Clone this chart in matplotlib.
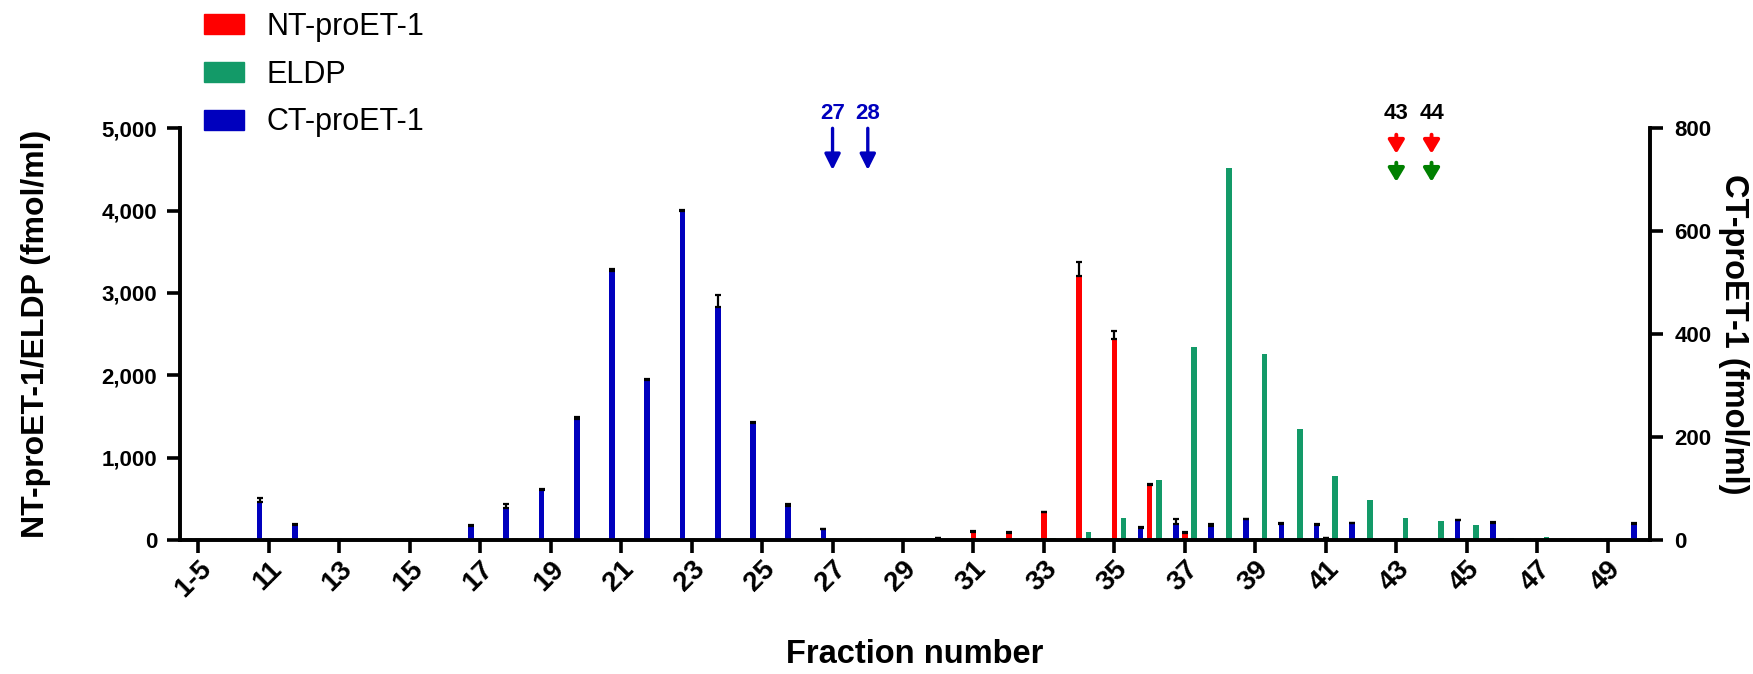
import numpy as np
import matplotlib
matplotlib.use('Agg')
import matplotlib.pyplot as plt
from matplotlib.patches import Patch

plt.rcParams['font.family'] = ['Liberation Sans', 'DejaVu Sans']

fractions = ['1-5', '6-10'] + [str(n) for n in range(11, 51)]

# NT-proET-1 (fmol/ml), left axis
nt = [0, 0,
      0, 0, 0, 0, 0, 0, 0, 0, 0, 0,          # 11-20
      0, 0, 0, 0, 0, 0, 0, 0, 0, 25,         # 21-30
      95, 85, 340, 3206, 2445, 672, 85, 0, 0, 0,   # 31-40
      20, 0, 0, 0, 0, 0, 0, 0, 0, 0]        # 41-50
nt_err = [0, 0,
          0, 0, 0, 0, 0, 0, 0, 0, 0, 0,
          0, 0, 0, 0, 0, 0, 0, 0, 0, 5,
          12, 15, 0, 166, 97, 12, 10, 0, 0, 0,
          0, 0, 0, 0, 0, 0, 0, 0, 0, 0]

# ELDP (fmol/ml), left axis
eldp = [0, 0,
        0, 0, 0, 0, 0, 0, 0, 0, 0, 0,
        0, 0, 0, 0, 0, 0, 0, 0, 0, 0,
        0, 0, 25, 93, 263, 725, 2340, 4522, 2259, 1344,
        777, 490, 271, 231, 178, 24, 36, 12, 0, 0]

# CT-proET-1 (fmol/ml), right axis
ct = [0, 0,
      74, 30, 0, 0, 0, 0, 28, 63, 98, 236,
      523, 310, 639, 453, 227, 67, 21, 0, 0, 0,
      0, 0, 0, 0, 0, 24, 32, 27, 40, 32,
      30, 33, 0, 0, 38, 34, 0, 0, 0, 32]
ct_err = [0, 0,
          7, 1, 0, 0, 0, 0, 1, 6, 2, 3,
          3, 2, 3, 24, 2, 3, 1, 0, 0, 0,
          0, 0, 0, 0, 0, 1, 8, 4, 1, 1,
          1, 1, 0, 0, 1, 1, 0, 0, 0, 1]

red = '#FF0000'
green = '#139A68'
blue = '#0000BE'

x = np.arange(len(fractions))
w = 0.16
off = 0.26

fig = plt.figure(figsize=(17.53, 6.74), dpi=100)
ax = fig.add_axes([180 / 1753, 1 - 540 / 674, 1470 / 1753, 411.7 / 674])
ax2 = ax.twinx()

ax.bar(x, nt, w, color=red, zorder=2)
ax.errorbar(x, nt, yerr=[np.zeros(len(x)), nt_err], fmt='none', ecolor='black',
            elinewidth=1.6, capsize=2.5, capthick=1.6, zorder=3)
ax.bar(x + off, eldp, w, color=green, zorder=2)
ax2.bar(x - off, ct, w, color=blue, zorder=2)
ax2.errorbar(x - off, ct, yerr=[np.zeros(len(x)), ct_err], fmt='none', ecolor='black',
             elinewidth=1.6, capsize=2.5, capthick=1.6, zorder=3)

ax.set_xlim(-0.52, 41.2)
ax.set_ylim(0, 5000)
ax2.set_ylim(0, 800)

ax.set_yticks(range(0, 5001, 1000))
ax.set_yticklabels(['0', '1,000', '2,000', '3,000', '4,000', '5,000'])
ax2.set_yticks(range(0, 801, 200))

ax.set_xticks(x[::2])
ax.set_xticklabels(fractions[::2], rotation=45, ha='right', va='top',
                   rotation_mode='anchor')

for a in (ax, ax2):
    a.spines['top'].set_visible(False)
    for s in ('left', 'right', 'bottom'):
        a.spines[s].set_linewidth(2.6)
    a.tick_params(width=2.6, length=9.5, labelsize=16)
    for lbl in a.get_xticklabels() + a.get_yticklabels():
        lbl.set_fontweight('bold')
ax.tick_params(axis='x', pad=2, labelsize=20)
ax.tick_params(axis='y', pad=7)
ax2.tick_params(axis='y', pad=8)

ax.set_ylabel('NT-proET-1/ELDP (fmol/ml)', fontsize=23, fontweight='bold', labelpad=36)
ax2.set_ylabel('CT-proET-1 (fmol/ml)', fontsize=23.5, fontweight='bold',
               rotation=270, labelpad=27)
ax.set_xlabel('Fraction number', fontsize=23.5, fontweight='bold', labelpad=26)

# arrows above the fractions of interest
tr = ax.get_xaxis_transform()
for f in ['27', '28']:
    i = fractions.index(f)
    ax.annotate('', xy=(i, 0.8987), xytext=(i, 1.0), xycoords=tr, textcoords=tr,
                annotation_clip=False,
                arrowprops=dict(arrowstyle='-|>,head_length=0.5,head_width=0.25',
                                color=blue, lw=2.4, mutation_scale=19,
                                shrinkA=0, shrinkB=0))
    ax.text(i, 1.036, f, transform=tr, ha='center', va='center', color=blue,
            fontsize=16, fontweight='bold', clip_on=False)
for f in ['43', '44']:
    i = fractions.index(f)
    for y0, y1, c in [(0.9845, 0.9383, red), (0.9165, 0.8701, 'green')]:
        ax.annotate('', xy=(i, y1), xytext=(i, y0), xycoords=tr, textcoords=tr,
                    annotation_clip=False,
                    arrowprops=dict(arrowstyle='-|>,head_length=0.5,head_width=0.3',
                                    color=c, lw=2.8, mutation_scale=16,
                                    shrinkA=0, shrinkB=0))
    ax.text(i, 1.036, f, transform=tr, ha='center', va='center', color='black',
            fontsize=16, fontweight='bold', clip_on=False)

handles = [Patch(color=red, label='NT-proET-1'),
           Patch(color=green, label='ELDP'),
           Patch(color=blue, label='CT-proET-1')]
fig.legend(handles=handles, loc='upper left', bbox_to_anchor=(204 / 1753, 1 - 12 / 674),
           frameon=False, fontsize=22, handlelength=1.31, handleheight=0.65,
           handletextpad=0.75, labelspacing=0.58, borderpad=0, borderaxespad=0)

fig.savefig('out.png', dpi=100)
